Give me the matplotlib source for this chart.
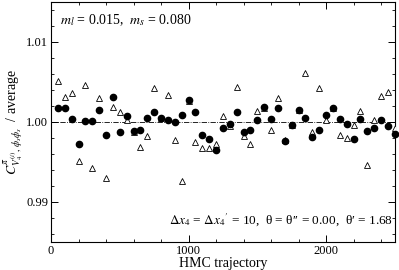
import numpy as np
import matplotlib
matplotlib.use("Agg")
import matplotlib.pyplot as plt
from matplotlib.ticker import MultipleLocator

traj = list(range(50, 2501, 50))

circles = [1.0018, 1.0018, 1.0004, 0.9972, 1.0001, 1.0001, 1.0015, 0.9984, 1.0031, 0.9988,
           1.0007, 0.9989, 0.9990, 1.0005, 1.0013, 1.0005, 1.0003, 1.0000, 1.0009, 1.0027,
           1.0013, 0.9984, 0.9979, 0.9965, 0.9992, 0.9998, 1.0012, 0.9987, 0.9990, 1.0002,
           1.0019, 1.0004, 1.0017, 0.9976, 0.9996, 1.0015, 1.0005, 0.9981, 0.9990, 1.0009,
           1.0018, 1.0004, 0.9997, 0.9979, 1.0004, 0.9989, 0.9993, 1.0003, 0.9995, 0.9985]

triangles = [1.0051, 1.0031, 1.0036, 0.9951, 1.0046, 0.9943, 1.0030, 0.9930, 1.0019, 1.0012,
             1.0003, 0.9988, 0.9969, 0.9983, 1.0043, 1.0005, 1.0034, 0.9978, 0.9926, 1.0026,
             0.9975, 0.9967, 0.9967, 0.9972, 1.0008, 0.9995, 1.0044, 0.9982, 0.9972, 1.0014,
             1.0018, 0.9990, 1.0030, 0.9977, 0.9996, 1.0015, 1.0061, 0.9987, 1.0043, 1.0002,
             1.0018, 0.9984, 0.9980, 0.9996, 1.0014, 0.9946, 1.0003, 1.0032, 1.0037, 0.9992]

plt.rcParams['font.family'] = ['Liberation Serif', 'DejaVu Serif']
plt.rcParams['mathtext.fontset'] = 'stix'

fig = plt.figure(figsize=(3.99, 2.70), dpi=100)
ax = fig.add_axes([51/399, 1 - 242/270, (394.75 - 51)/399, (242 - 2)/270])

ax.plot(traj, triangles, linestyle='none', marker='^', markersize=4.2,
        markerfacecolor='white', markeredgecolor='black', markeredgewidth=0.6, zorder=3)
ax.plot(traj, circles, linestyle='none', marker='o', markersize=4.5,
        markerfacecolor='black', markeredgecolor='black', zorder=4, clip_on=False)
ax.axhline(1.0, color='black', linestyle='-.', linewidth=0.6, zorder=2)

ax.set_xlim(0, 2500)
ax.set_ylim(0.985, 1.015)
ax.set_xticks([0, 1000, 2000])
ax.set_xticklabels(['0', '1000', '2000'])
ax.set_yticks([0.99, 1.00, 1.01])
ax.set_yticklabels(['0.99', '1.00', '1.01'])
ax.xaxis.set_minor_locator(MultipleLocator(200))
ax.yaxis.set_minor_locator(MultipleLocator(0.002))
ax.tick_params(which='both', direction='in', top=True, right=True, labelsize=9, pad=2)
ax.tick_params(which='major', length=5, width=0.7)
ax.tick_params(which='minor', length=2.5, width=0.6)
for s in ax.spines.values():
    s.set_linewidth(0.8)

ax.set_xlabel('HMC trajectory', fontsize=10, labelpad=0)
ax.set_ylabel(r'$C^{\pi}_{V_4^{(i)},\,\phi_s\phi_s}$  / average', fontsize=10, labelpad=0)

ax.text(0.025, 0.925, r'$m_l$ = 0.015,  $m_s$ = 0.080', transform=ax.transAxes,
        fontsize=10, ha='left', va='center')
ax.text(0.995, 0.095, r'$\Delta x_4$ = $\Delta x_4{}^{\prime}$ = 10,  θ = θ′′ = 0.00,  θ′ = 1.68',
        transform=ax.transAxes, fontsize=9.5, ha='right', va='center')

fig.savefig('out.png', dpi=100)
